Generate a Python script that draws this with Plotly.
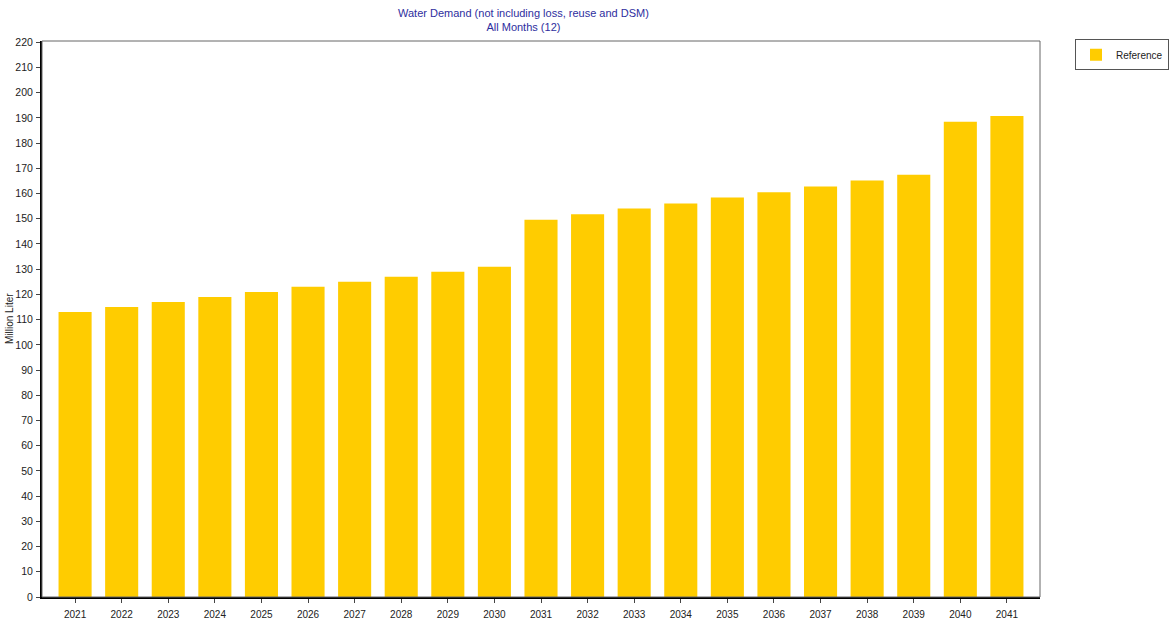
import plotly.graph_objects as go

years = [str(y) for y in range(2021, 2042)]
values = [113, 115, 117, 119, 121, 123, 125, 127, 129, 131,
          149.6, 151.8, 154.1, 156.1, 158.4, 160.5, 162.8, 165.2, 167.5, 188.5, 190.8]
series_name = "Reference"
title_line1 = "Water Demand (not including loss, reuse and DSM)"
title_line2 = "All Months (12)"
y_title = "Million Liter"
y_ticks = list(range(0, 221, 10))

FONT = "Liberation Sans Narrow, Arial Narrow, Liberation Sans, sans-serif"

fig = go.Figure()
fig.add_trace(go.Bar(
    x=years, y=values, name=series_name,
    marker=dict(color="#FFCC00", line=dict(width=0)),
    showlegend=True,
))

L, R, T, B = 42, 131, 41, 24
W, H = 1171, 621
pw = W - L - R

fig.update_layout(
    width=W, height=H,
    margin=dict(l=L, r=R, t=T, b=B, autoexpand=False),
    paper_bgcolor="white", plot_bgcolor="white",
    bargap=0.29,
    font=dict(family=FONT, size=10, color="#222222"),
    showlegend=True,
    legend=dict(
        x=(1075 - L) / pw, y=1.003, xanchor="left", yanchor="top",
        bordercolor="#555555", borderwidth=1, bgcolor="white",
        font=dict(family=FONT, size=10, color="#222222"),
        itemwidth=30, entrywidth=70, tracegroupgap=0,
    ),
    xaxis=dict(
        type="category", range=[-0.71, len(years) - 1 + 0.71],
        showline=True, linecolor="black", linewidth=2,
        ticks="outside", ticklen=4, tickcolor="#444444",
        ticklabelstandoff=3,
        showgrid=False, zeroline=False,
        tickfont=dict(family=FONT, size=10, color="#222222"),
    ),
    yaxis=dict(
        range=[0, 220.5], tickvals=y_ticks,
        showline=True, linecolor="black", linewidth=2,
        ticks="outside", ticklen=4, tickcolor="#444444",
        ticklabelstandoff=1,
        showgrid=False, zeroline=False,
        tickfont=dict(family=FONT, size=10.5, color="#222222"),
    ),
    annotations=[
        dict(text=title_line1 + "<br>" + title_line2, xref="paper", yref="paper",
             x=(523 - L) / pw, y=1, xanchor="center", yanchor="bottom", yshift=6,
             showarrow=False, align="center",
             font=dict(family=FONT, size=11, color="#2E2E9E")),
        dict(text=y_title, xref="paper", yref="paper",
             x=(9 - L) / pw, y=0.5, xanchor="center", yanchor="middle",
             textangle=-90, showarrow=False,
             font=dict(family=FONT, size=10, color="#222222")),
    ],
    shapes=[
        dict(type="rect", xref="paper", yref="paper", x0=0, y0=0, x1=1, y1=1,
             line=dict(color="#666666", width=1), layer="above"),
    ],
)

fig.write_html(
    "out.html",
    config={"displayModeBar": False},
    post_script="document.body.style.margin='0';document.body.style.overflow='hidden';",
)
